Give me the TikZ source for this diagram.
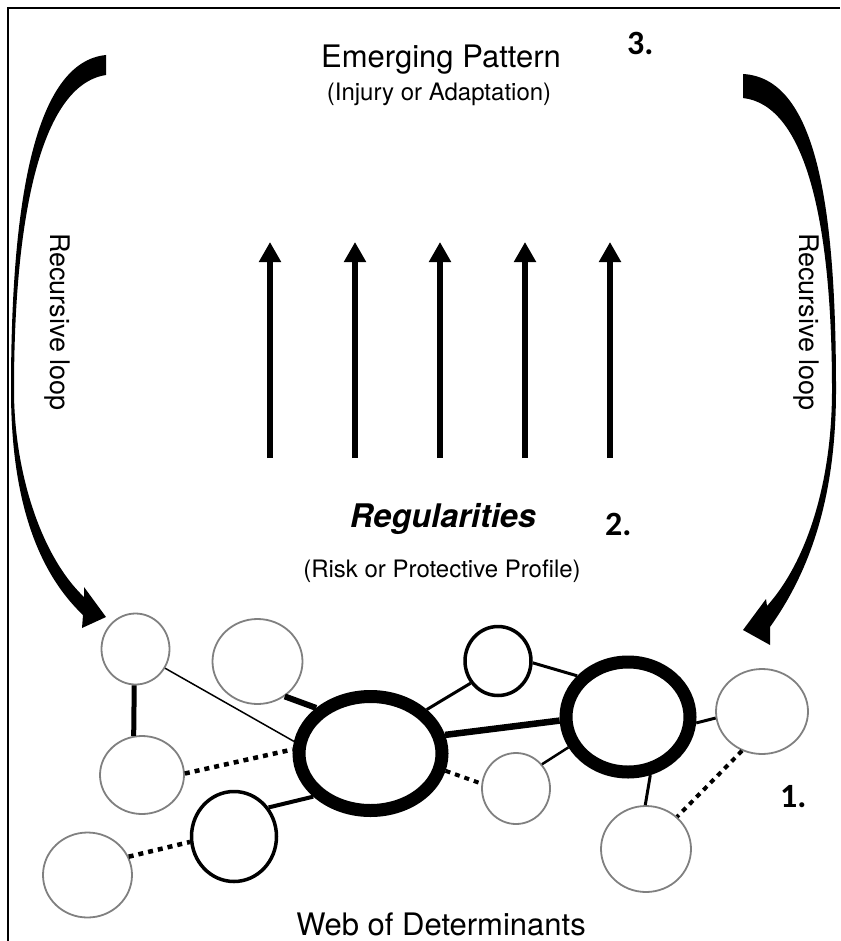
\documentclass[tikz,border=0pt]{standalone}
\usepackage{fontspec}
\setmainfont{TeX Gyre Heros}
\newfontfamily\numfont{Carlito}
\usetikzlibrary{shapes.geometric,arrows.meta}

\begin{document}
\begin{tikzpicture}[x=1pt,y=-1pt,
  det/.style={ellipse,inner sep=0pt,draw=black!50,line width=1.8pt},
  detbold/.style={ellipse,inner sep=0pt,draw=black,line width=3.5pt},
  dethub/.style={ellipse,inner sep=0pt,draw=black,line width=13pt},
  weak/.style={line width=4.5pt,dash pattern=on 5pt off 5pt},
  rise/.style={line width=6.5pt,-{Triangle[width=21pt,length=20pt]}},
  lab/.style={inner sep=0pt,anchor=base},
  num/.style={inner sep=0pt,anchor=base west,font=\numfont\bfseries\fontsize{34}{40}\selectfont},
]
\useasboundingbox (0,0) rectangle (840,941);

% frame
\draw[line width=2pt] (8,941) -- (8,8) -- (840,8);

% titles
\node[lab,font=\fontsize{31}{37}\selectfont] (emerge) at (441,68) {Emerging Pattern};
\node[lab,font=\fontsize{24}{29}\selectfont] (emergesub) at (439,101) {(Injury or Adaptation)};
\node[num] (lab3) at (627,55) {3.};

\node[lab,font=\bfseries\itshape\fontsize{32.5}{39}\selectfont] (reg) at (443,527) {Regularities};
\node[num] (lab2) at (605,535) {2.};
\node[lab,font=\fontsize{24}{29}\selectfont] (regsub) at (442,577) {(Risk or Protective Profile)};

\node[lab,font=\fontsize{31}{37}\selectfont] (web) at (441,935) {Web of Determinants};
\node[num] (lab1) at (780,807) {1.};

\node[inner sep=0pt,rotate=-90,font=\fontsize{27}{32}\selectfont] (loopL) at (57,322) {Recursive loop};
\node[inner sep=0pt,rotate=-90,font=\fontsize{27}{32}\selectfont] (loopR) at (806,322) {Recursive loop};

% upward arrows
\foreach \x [count=\i] in {270,355,440,525,610} {
  \coordinate (b\i) at (\x,458);
  \coordinate (t\i) at (\x,242);
  \draw[rise] (b\i) -- (t\i);
}

% recursive loops (tapered arrows)
\fill (106,55) .. controls (35,62) and (11,200) .. (11,390)
  .. controls (11,470) and (25,560) .. (83,615)
  -- (82,628) -- (106,617) -- (84,587) -- (84,597)
  .. controls (40,555) and (14,470) .. (14,390)
  .. controls (14,220) and (40,85) .. (106,75) -- cycle;

\fill (743,74) .. controls (815,78) and (836,200) .. (836,390)
  .. controls (836,480) and (818,560) .. (770,627)
  -- (770,645) -- (743,630) -- (766,599) -- (767,606)
  .. controls (808,560) and (832,480) .. (832,390)
  .. controls (832,220) and (805,105) .. (743,98) -- cycle;

% web of determinants
\node[det,minimum width=68pt,minimum height=71pt] (n1) at (135.5,649) {};
\node[det,minimum width=90pt,minimum height=85pt] (n2) at (257.5,661.5) {};
\node[det,minimum width=84pt,minimum height=78pt] (n3) at (142,775) {};
\node[det,minimum width=89pt,minimum height=85pt] (n4) at (87.5,875) {};
\node[detbold,minimum width=85pt,minimum height=90pt] (n5) at (234,836.5) {};
\node[dethub,minimum width=143pt,minimum height=114pt] (n6) at (370.5,753.5) {};
\node[detbold,minimum width=66pt,minimum height=69pt] (n7) at (498,661) {};
\node[det,minimum width=68pt,minimum height=71pt] (n8) at (516,788.5) {};
\node[dethub,minimum width=124pt,minimum height=110pt] (n9) at (628,717) {};
\node[det,minimum width=92pt,minimum height=85pt] (n10) at (762,711.5) {};
\node[det,minimum width=90pt,minimum height=86pt] (n11) at (646,849) {};

\draw[line width=5pt] (n1.-92) -- (n3.102);
\draw[line width=1.5pt] (n1.-33) -- (n6.171);
\draw[line width=6pt] (n2.-52) -- (n6.140);
\draw[weak] (n3.2) -- (n6.177);
\draw[line width=4pt] (n5.40) -- (n6.217);
\draw[weak] (n4.24) -- (n5.187);
\draw[line width=3pt] (n6.38) -- (n7.219);
\draw[line width=3pt] (n7.-3) -- (n9.141);
\draw[line width=6.5pt] (n6.14) -- (n9.183);
\draw[weak,line width=4pt] (n6.-13) -- (n8.172);
\draw[line width=2.5pt] (n8.43) -- (n9.207);
\draw[line width=3pt] (n9.-5) -- (n10.188);
\draw[line width=3pt] (n9.-69) -- (n11.91);
\draw[weak,line width=4pt] (n10.243) -- (n11.46);
\end{tikzpicture}
\end{document}
